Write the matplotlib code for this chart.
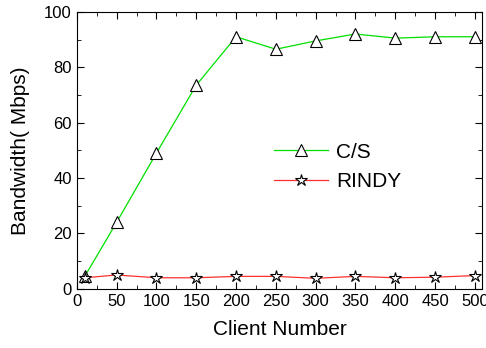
import matplotlib
matplotlib.use("Agg")
import matplotlib.pyplot as plt
from matplotlib.ticker import MultipleLocator

plt.rcParams['font.family'] = ['Liberation Sans', 'DejaVu Sans']

clients = [10, 50, 100, 150, 200, 250, 300, 350, 400, 450, 500]
cs_bw = [4.5, 24, 49, 73.5, 91, 86.5, 89.5, 92, 90.5, 91, 91]
rindy_bw = [4, 5, 4, 4, 4.5, 4.5, 3.8, 4.5, 4, 4.2, 4.8]

fig = plt.figure(figsize=(4.86, 3.48), dpi=100)
ax = fig.add_axes([0.158, 0.170, 0.834, 0.796])

ax.plot(clients, cs_bw, color='#00e000', linewidth=0.9, marker='^', markersize=9,
        markerfacecolor='white', markeredgecolor='black', markeredgewidth=0.8, label='C/S')
ax.plot(clients, rindy_bw, color='#ff3030', linewidth=0.9, marker='*', markersize=9,
        markerfacecolor='white', markeredgecolor='black', markeredgewidth=0.8, label='RINDY')

ax.set_xlim(0, 509)
ax.set_ylim(0, 100)
ax.xaxis.set_major_locator(MultipleLocator(50))
ax.xaxis.set_minor_locator(MultipleLocator(25))
ax.yaxis.set_major_locator(MultipleLocator(20))
ax.yaxis.set_minor_locator(MultipleLocator(10))
ax.tick_params(which='both', direction='in', top=True, right=True, labelsize=12)
ax.tick_params(which='major', length=5)
ax.tick_params(which='minor', length=3)

ax.set_xlabel('Client Number', fontsize=15, labelpad=8)
ax.set_ylabel('Bandwidth( Mbps)', fontsize=15, labelpad=10)

ax.legend(loc='center left', bbox_to_anchor=(0.44, 0.44), frameon=False, fontsize=15,
          handlelength=2.6, handletextpad=0.4, labelspacing=0.5)

fig.savefig('out.png', dpi=100)
